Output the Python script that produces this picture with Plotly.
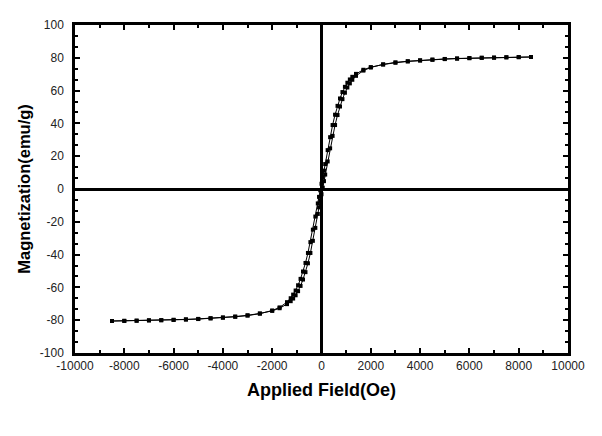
import plotly.graph_objects as go

# descending branch (field swept from +8500 down to -8500)
field_down = [8500, 8000, 7500, 7000, 6500, 6000, 5500, 5000, 4500, 4000, 3500, 3000,
              2500, 2000, 1700, 1400, 1250, 1150, 1050, 950, 850, 750, 650, 550, 450,
              350, 250, 150, 100, 50, 0, -50, -100, -150, -250, -350, -450, -550, -650,
              -750, -850, -950, -1050, -1150, -1250, -1400, -1700, -2000, -2500, -3000,
              -3500, -4000, -4500, -5000, -5500, -6000, -6500, -7000, -7500, -8000, -8500]
mag_down = [80.5, 80.4, 80.3, 80.1, 80.0, 79.8, 79.5, 79.2, 78.8, 78.3, 77.8, 77.0,
            75.9, 74.3, 72.7, 70.2, 68.4, 66.8, 64.8, 62.3, 59.1, 55.2, 50.7, 45.3, 39.0,
            31.6, 23.7, 15.2, 11.2, 7.2, 3.2, -0.8, -4.8, -8.8, -16.8, -24.8, -32.4, -39.0, -45.1,
            -50.3, -54.8, -58.7, -61.9, -64.4, -66.6, -69.0, -72.2, -74.1, -76.0, -77.2,
            -77.9, -78.5, -78.9, -79.3, -79.6, -79.8, -80.0, -80.1, -80.3, -80.4, -80.5]

# ascending branch (field swept from -8500 back up to +8500)
field_up = [-8500, -8000, -7500, -7000, -6500, -6000, -5500, -5000, -4500, -4000, -3500, -3000,
            -2500, -2000, -1700, -1400, -1250, -1150, -1050, -950, -850, -750, -650, -550, -450,
            -350, -250, -150, -100, -50, 0, 50, 100, 150, 250, 350, 450, 550, 650,
            750, 850, 950, 1050, 1150, 1250, 1400, 1700, 2000, 2500, 3000,
            3500, 4000, 4500, 5000, 5500, 6000, 6500, 7000, 7500, 8000, 8500]
mag_up = [-80.5, -80.4, -80.3, -80.1, -80.0, -79.8, -79.5, -79.2, -78.8, -78.3, -77.8, -77.0,
          -75.9, -74.3, -72.7, -70.2, -68.4, -66.8, -64.8, -62.3, -59.1, -55.2, -50.7, -45.3, -39.0,
          -31.6, -23.7, -15.2, -11.2, -7.2, -3.2, 0.8, 4.8, 8.8, 16.8, 24.8, 32.4, 39.0, 45.1,
          50.3, 54.8, 58.7, 61.9, 64.4, 66.6, 69.0, 72.2, 74.1, 76.0, 77.2,
          77.9, 78.5, 78.9, 79.3, 79.6, 79.8, 80.0, 80.1, 80.3, 80.4, 80.5]

x_ticks = list(range(-10000, 10001, 2000))
y_ticks = list(range(-100, 101, 20))

fig = go.Figure()
for fx, my in [(field_down, mag_down), (field_up, mag_up)]:
    fig.add_trace(go.Scatter(x=fx, y=my, mode='lines+markers',
                             line=dict(color='black', width=1),
                             marker=dict(symbol='square', size=4, color='black'),
                             showlegend=False))

axis_common = dict(showline=True, linecolor='black', linewidth=2.5, mirror='ticks',
                   ticks='inside', ticklen=5, tickwidth=2, tickcolor='black',
                   showgrid=False, zeroline=True, zerolinecolor='black', zerolinewidth=2.5,
                   tickfont=dict(family='Liberation Sans, Arial', size=12, color='#222'))

fig.update_xaxes(range=[-10000, 10000], tickvals=x_ticks, ticktext=[str(v) for v in x_ticks],
                 minor=dict(dtick=1000, ticks='inside', ticklen=3, tickwidth=2, tickcolor='black'),
                 ticklabelstandoff=0,
                 title=dict(text='<b>Applied Field(Oe)</b>', standoff=12,
                            font=dict(family='Liberation Sans, Arial', size=18, color='black')),
                 **axis_common)
fig.update_yaxes(range=[-100, 100], tickvals=y_ticks, ticktext=[str(v) for v in y_ticks],
                 minor=dict(tick0=0, dtick=20 / 3, ticks='inside', ticklen=3, tickwidth=2, tickcolor='black'),
                 ticklabelstandoff=6,
                 title=dict(text='<b>Magnetization(emu/g)</b>', standoff=6,
                            font=dict(family='Liberation Sans, Arial', size=16.5, color='black')),
                 **axis_common)

# page body adds an 8px offset, margins are set to compensate
fig.update_layout(width=602, height=436, plot_bgcolor='white', paper_bgcolor='white',
                  margin=dict(l=67, r=42, t=10, b=91),
                  font=dict(family='Liberation Sans, Arial'))

fig.write_html("out.html")
